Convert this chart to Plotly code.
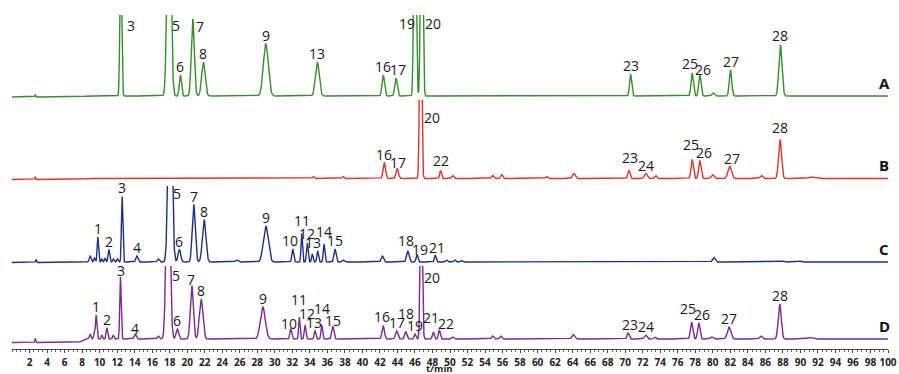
import numpy as np
import plotly.graph_objects as go

# ---------------- data ----------------
# retention time (min), peak height (signal units), peak sigma (min), peak label
A_times = [2.65, 12.42, 17.93, 19.22, 20.64, 21.85, 28.97, 34.85, 42.38, 43.83, 46.00, 46.77,
           70.61, 77.64, 78.52, 80.03, 82.02, 87.72]
A_heights = [2, 150, 260, 21, 77, 34, 52, 34, 21, 18, 300, 300, 22, 23, 21, 3, 26, 51]
A_sigmas = [0.05, 0.10, 0.20, 0.12, 0.17, 0.20, 0.28, 0.22, 0.14, 0.14, 0.12, 0.12,
            0.12, 0.13, 0.13, 0.15, 0.14, 0.18]
A_labels = ["", "3", "5", "6", "7", "8", "9", "13", "16", "17", "19", "20",
            "23", "25", "26", "", "27", "28"]

B_times = [2.65, 34.4, 37.8, 42.50, 43.98, 46.65, 48.93, 50.3, 54.86, 55.89, 61.03, 64.14,
           70.42, 72.36, 73.46, 77.64, 78.52, 79.97, 81.94, 85.55, 87.68, 91.26]
B_heights = [3, 2, 2, 16, 10, 250, 8, 3, 3, 4, 2, 5, 8, 5, 3, 19, 18, 4, 12, 3, 39, 1.5]
B_sigmas = [0.04, 0.1, 0.1, 0.14, 0.14, 0.11, 0.10, 0.12, 0.12, 0.12, 0.12, 0.15,
            0.12, 0.15, 0.12, 0.13, 0.13, 0.15, 0.20, 0.15, 0.17, 0.30]
B_labels = ["", "", "", "16", "17", "20", "22", "", "", "", "", "",
            "23", "24", "", "25", "26", "", "27", "", "28", ""]

C_times = [2.75, 8.92, 9.41, 9.80, 10.26, 10.63, 11.06, 11.58, 12.04, 12.57, 14.25, 16.71,
           18.05, 19.11, 20.75, 21.93, 25.66, 28.97, 32.05, 33.07, 33.71, 34.28, 34.90,
           35.62, 36.87, 37.82, 42.27, 45.17, 46.23, 48.32, 49.62, 50.56, 51.33,
           80.12, 87.95, 89.92]
C_heights = [3, 6, 4, 25, 3, 4, 12.5, 3, 3, 66, 6, 3,
             250, 12.5, 57.5, 42.5, 2, 36, 13, 29, 19, 8, 11,
             18, 13, 2, 6, 11, 7.5, 6.5, 2, 2, 1.5,
             4.5, 1, 1]
C_sigmas = [0.05, 0.10, 0.08, 0.08, 0.07, 0.08, 0.09, 0.08, 0.08, 0.08, 0.12, 0.12,
            0.20, 0.15, 0.17, 0.20, 0.15, 0.28, 0.10, 0.08, 0.09, 0.08, 0.09,
            0.09, 0.12, 0.12, 0.13, 0.14, 0.10, 0.10, 0.10, 0.10, 0.10,
            0.15, 0.15, 0.15]
C_labels = ["", "", "", "1", "", "", "2", "", "", "3", "4", "",
            "5", "6", "7", "8", "", "9", "10", "11", "12", "", "13",
            "14", "15", "", "", "18", "19", "21", "", "", "",
            "", "", ""]

D_times = [2.65, 8.92, 9.38, 9.61, 10.26, 10.83, 11.55, 12.38, 14.06, 16.68,
           17.82, 18.88, 20.53, 21.59, 28.63, 31.82, 32.80, 33.45, 34.59, 35.36, 36.61,
           42.38, 43.91, 44.94, 46.00, 46.72, 48.09, 48.78, 50.3, 54.86, 55.78, 64.06,
           70.34, 72.32, 73.38, 77.57, 78.40, 79.85, 81.86, 85.48, 87.64, 91.07]
D_heights = [4, 5, 5, 24, 4, 11, 4, 62, 5, 3,
             220, 10, 53.5, 40, 32, 10, 22, 14, 8.5, 14, 13,
             13, 8, 7.5, 5, 200, 7, 9, 2, 3, 3, 4.5,
             6, 4, 2, 17, 16, 2, 12, 3, 35, 1.5]
D_sigmas = [0.05, 0.08, 0.08, 0.08, 0.07, 0.09, 0.08, 0.08, 0.12, 0.12,
            0.20, 0.15, 0.17, 0.20, 0.28, 0.10, 0.08, 0.09, 0.09, 0.09, 0.12,
            0.14, 0.13, 0.12, 0.10, 0.11, 0.10, 0.10, 0.12, 0.12, 0.12, 0.15,
            0.12, 0.15, 0.12, 0.13, 0.13, 0.15, 0.20, 0.15, 0.17, 0.30]
D_labels = ["", "", "", "1", "", "2", "", "3", "4", "",
            "5", "6", "7", "8", "9", "10", "11", "12", "13", "14", "15",
            "16", "17", "18", "19", "20", "21", "22", "", "", "", "",
            "23", "24", "", "25", "26", "", "27", "", "28", ""]

# baseline step near 8 min (signal offset before the step)
STEP_TIME = 8.0
BASE_OFFSETS = {"A": -1.0, "B": -1.0, "C": -0.5, "D": -3.5}

TRACE_NAMES = ["A", "B", "C", "D"]
X_TICKS = list(range(2, 101, 2))

# ---------------- styling / layout ----------------
COLORS = {"A": "#3a8c30", "B": "#e2332b", "C": "#1e2f88", "D": "#7b2a8f"}
FONT = "Open Sans, Noto Sans, sans-serif"
PX_PER_MIN = 8.765
H, TOP_M, BOT_M = 374, 0, 25
PLOT_H = H - TOP_M - BOT_M  # 349
# pixel band (top, bottom) and baseline pixel of each stacked panel
BANDS = {"A": (15, 99, 96), "B": (100, 184, 178.5), "C": (186, 265, 262), "D": (266, 349, 339)}

# label nudges: (dx in px, y in px above baseline); default = centred, top + 8.5
NUDGE = {
    "A": {"3": (10, 71), "5": (7, 71), "7": (7.5, 70), "17": (2, None), "19": (-8, 72.7),
          "20": (11, 72.7), "25": (-2, 33), "26": (3, 27), "28": (0, 61)},
    "B": {"17": (1, 16), "20": (11, 61), "22": (0, 18.5), "23": (1.5, 21.5), "25": (-1.5, 34),
          "26": (4, None), "27": (2.7, None), "28": (0, 51.5)},
    "C": {"5": (6.7, 69), "10": (-2.7, None), "11": (0, 42), "12": (0, 29), "13": (-5, None),
          "14": (0, 31), "18": (-1.7, 22), "19": (3, 13), "21": (2, None)},
    "D": {"3": (0.7, 68.5), "4": (0, 11), "5": (8, 64), "7": (-0.7, 60), "10": (-1.7, 16),
          "11": (0, 39.7), "12": (2, 26), "13": (-1, None), "14": (0, 30.7), "15": (0, 19),
          "16": (-1.3, 23), "18": (0, 25.7), "20": (10.7, 61.3), "21": (-2.3, 21.7),
          "22": (6.7, 15.5), "23": (1.7, None), "25": (-3.7, 30.7), "26": (3, None)},
}

DATA = {
    "A": (A_times, A_heights, A_sigmas, A_labels),
    "B": (B_times, B_heights, B_sigmas, B_labels),
    "C": (C_times, C_heights, C_sigmas, C_labels),
    "D": (D_times, D_heights, D_sigmas, D_labels),
}

t = np.round(np.arange(0.0, 100.0001, 0.02), 3)

fig = go.Figure()
annotations = []
layout_axes = {}

for i, name in enumerate(TRACE_NAMES):
    times, heights, sigmas, labels = DATA[name]
    y = np.zeros_like(t)
    for tc, h, s in zip(times, heights, sigmas):
        y += h * np.exp(-0.5 * ((t - tc) / s) ** 2)
    ramp = np.clip((STEP_TIME + 0.6 - t) / 1.0, 0, 1)
    y += BASE_OFFSETS[name] * ramp

    ax_suffix = "" if i == 0 else str(i + 1)
    yref = "y" + ax_suffix
    fig.add_trace(go.Scatter(x=t, y=y, mode="lines", xaxis="x", yaxis=yref,
                             line=dict(color=COLORS[name], width=1.4),
                             hoverinfo="skip", showlegend=False))

    top_px, bot_px, base_px = BANDS[name]
    d0 = (PLOT_H - bot_px) / PLOT_H
    d1 = (PLOT_H - top_px) / PLOT_H
    rng = [-(bot_px - base_px), base_px - top_px]
    layout_axes["yaxis" + ax_suffix] = dict(domain=[max(d0, 0), min(d1, 1)], range=rng,
                                            visible=False, fixedrange=True, anchor="x")

    vis_top = rng[1]
    for tc, h, lab in zip(times, heights, labels):
        if not lab:
            continue
        dx, ly = NUDGE[name].get(lab, (0, None))
        if ly is None:
            ly = min(h, vis_top) + 8.5
        annotations.append(dict(x=tc + dx / PX_PER_MIN, y=ly, xref="x", yref=yref,
                                text=lab, showarrow=False, xanchor="center", yanchor="middle",
                                font=dict(family=FONT, size=14, color="#1a1a1a")))
    # right-hand trace letter
    annotations.append(dict(x=99.55, y=13.5, xref="x", yref=yref, text="<b>%s</b>" % name,
                            showarrow=False, xanchor="center", yanchor="middle",
                            font=dict(family=FONT, size=15, color="#111111")))

annotations.append(dict(x=48.85, y=(PLOT_H - 368.5) / PLOT_H, xref="x", yref="paper",
                        text="<b>t/min</b>", showarrow=False, xanchor="center", yanchor="middle",
                        font=dict(family=FONT, size=9.5, color="#222222")))

fig.update_layout(
    width=899, height=H,
    margin=dict(l=12, r=11, t=TOP_M, b=BOT_M, pad=0),
    paper_bgcolor="white", plot_bgcolor="white",
    showlegend=False,
    xaxis=dict(range=[0, 100], domain=[0, 1], anchor="y4", fixedrange=True,
               tickmode="array", tickvals=X_TICKS, ticktext=[str(v) for v in X_TICKS],
               ticks="outside", ticklen=3, tickwidth=1, tickcolor="#444444",
               minor=dict(dtick=0.5, ticks="outside", ticklen=2, tickcolor="#666666"),
               showline=True, linecolor="#444444", linewidth=1,
               showgrid=False, zeroline=False, ticklabelstandoff=1,
               tickfont=dict(family=FONT, size=10, color="#222222", weight="bold")),
    annotations=annotations,
    **layout_axes,
)

fig.write_html("out.html", config={"displayModeBar": False},
               post_script="document.body.style.margin='0';")
